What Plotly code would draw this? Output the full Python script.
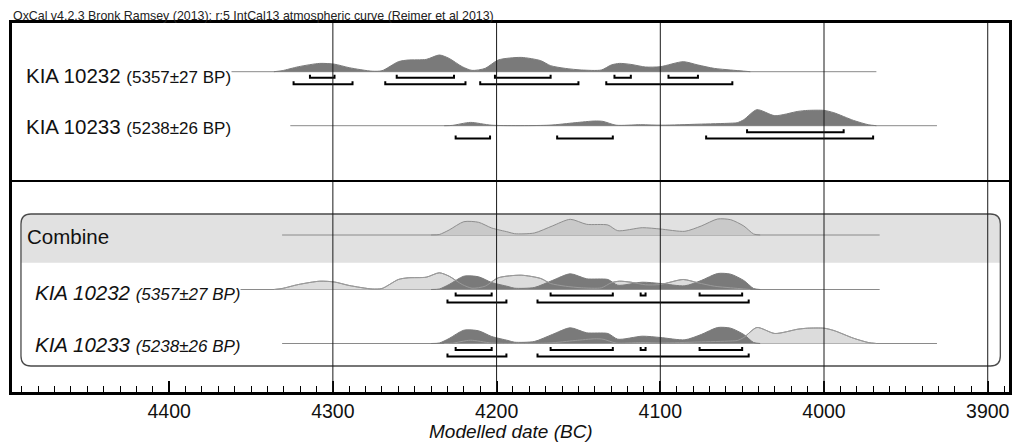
import plotly.graph_objects as go

# ---------------- data (years BC, relative probability) ----------------
yr_10232 = [4336, 4331, 4321, 4308, 4299, 4290, 4276, 4270, 4260, 4254, 4243, 4235, 4229, 4221, 4215,
            4207, 4199, 4185, 4173, 4167, 4158, 4148, 4136, 4130, 4125, 4118, 4109, 4100, 4086, 4077,
            4067, 4057, 4045]
p_10232 = [0, 1, 5, 8.3, 7.5, 4, 0.5, 1, 10, 11.7, 12.3, 16.7, 13.3, 5, 1.3,
           3.3, 11.7, 14.3, 11, 6, 3.3, 1.7, 1.7, 6.7, 8.3, 7.3, 4.7, 5, 10, 6.7,
           3.3, 1.7, 0]

yr_10233 = [4232, 4227, 4216, 4203, 4168, 4152, 4140, 4135, 4127, 4112, 4099, 4077, 4057, 4053,
            4049, 4041, 4030, 4016, 4010, 4000, 3994, 3982, 3973, 3968]
p_10233 = [0, 0.3, 3.3, 0.5, 0.5, 3, 4.7, 4.3, 0.5, 1, 0.5, 1.5, 2.5, 3,
           6, 16, 10, 14.3, 15.3, 15.3, 13, 5.3, 1, 0]

yr_comb = [4240, 4235, 4229, 4220, 4211, 4203, 4193, 4189, 4177, 4166, 4155, 4145, 4132, 4126,
           4111, 4100, 4085, 4075, 4065, 4057, 4049, 4043, 4039]
p_comb = [0, 0.5, 5, 13.3, 12.7, 7, 3, 1.3, 2, 9, 15.7, 10.7, 10, 4.3,
          7.3, 6, 3.7, 9, 16, 15.3, 9, 1, 0]

# highest posterior density ranges (from, to) in years BC
r68_10232 = [(4314, 4299), (4261, 4226), (4201, 4167), (4128, 4118), (4095, 4077)]
r95_10232 = [(4324, 4288), (4268, 4219), (4210, 4150), (4133, 4056)]
r68_10233 = [(4047, 3988)]
r95_10233 = [(4225, 4204), (4163, 4129), (4072, 3970)]
r68_comb = [(4225, 4203), (4167, 4129), (4112, 4109), (4076, 4050)]
r95_comb = [(4230, 4194), (4175, 4046)]

# extents of the plotted baseline of each distribution
span_10232 = (4375, 3968)
span_10233 = (4326, 3931)
span_comb = (4331, 3966)

tick_years = [4400, 4300, 4200, 4100, 4000, 3900]
grid_years = [4300, 4200, 4100, 4000, 3900]

title_txt = "OxCal v4.2.3 Bronk Ramsey (2013); r:5 IntCal13 atmospheric curve (Reimer et al 2013)"
axis_title = "Modelled date (BC)"

# ---------------- layout constants ----------------
W, H = 1024, 448
L, R, T, B = 12, 12, 23, 56
X_RANGE = [4496, 3887]
Y_TOP, Y_BOT = T, H - B          # y axis in pixel units (reversed)
FONT = "Liberation Sans, Arial, sans-serif"

DARK = "#7a7a7a"
LIGHT = "#dcdcdc"
LIGHT_EDGE = "#8e8e8e"
COMB_FILL = "#c9c9c9"
BASE_LINE = "#8a8a8a"
SM = 0.7


def px(xpix):
    return (xpix - L) / (W - L - R)


fig = go.Figure()


def baseline(span, y):
    fig.add_trace(go.Scatter(x=list(span), y=[y, y], mode="lines",
                             line=dict(color=BASE_LINE, width=1), hoverinfo="skip"))


def dist(yrs, ps, y, fill, edge, width=1.0):
    ys = [y - p for p in ps]
    fig.add_trace(go.Scatter(x=yrs, y=ys, mode="lines", fill="toself", fillcolor=fill,
                             line=dict(color=edge, width=width, shape="spline", smoothing=SM),
                             hoverinfo="skip"))


def outline(yrs, ps, y, edge):
    fig.add_trace(go.Scatter(x=yrs, y=[y - p for p in ps], mode="lines",
                             line=dict(color=edge, width=1, shape="spline", smoothing=SM),
                             hoverinfo="skip"))


def brackets(ranges, y):
    xs, ys = [], []
    for a, b in ranges:
        xs += [a, a, b, b, None]
        ys += [y - 3, y, y, y - 3, None]
    fig.add_trace(go.Scatter(x=xs, y=ys, mode="lines", line=dict(color="black", width=2),
                             hoverinfo="skip"))


# top panel: unmodelled
y1, y2 = 71.7, 125.7
baseline(span_10232, y1)
dist(yr_10232, p_10232, y1, DARK, DARK)
brackets(r68_10232, y1 + 6)
brackets(r95_10232, y1 + 12.5)

baseline(span_10233, y2)
dist(yr_10233, p_10233, y2, DARK, DARK)
brackets(r68_10233, y2 + 6.5)
brackets(r95_10233, y2 + 12.7)

# lower panel: combine
yc, y3, y4 = 235, 289.5, 343.5
baseline(span_comb, yc)
dist(yr_comb, p_comb, yc, COMB_FILL, LIGHT_EDGE)

baseline((span_10232[0], span_comb[1]), y3)
dist(yr_10232, p_10232, y3, LIGHT, LIGHT_EDGE)
dist(yr_comb, p_comb, y3, DARK, DARK)
outline(yr_10232, p_10232, y3, "#9a9a9a")
brackets(r68_comb, y3 + 6)
brackets(r95_comb, y3 + 13)

baseline((span_comb[0], span_10233[1]), y4)
dist(yr_10233, p_10233, y4, LIGHT, LIGHT_EDGE)
dist(yr_comb, p_comb, y4, DARK, DARK)
outline(yr_10233, p_10233, y4, "#9a9a9a")
brackets(r68_comb, y4 + 6.5)
brackets(r95_comb, y4 + 13)

# ---------------- shapes ----------------
shapes = []
bx0, bx1, by0, by1, rad = px(21), px(1003.3), 214, 366, 10
rx = rad / (W - L - R)
band_bot = 262.7
shapes.append(dict(type="path", xref="paper", yref="y", layer="below",
                   path=(f"M {bx0},{band_bot} L {bx0},{by0+rad} Q {bx0},{by0} {bx0+rx},{by0} "
                         f"L {bx1-rx},{by0} Q {bx1},{by0} {bx1},{by0+rad} L {bx1},{band_bot} Z"),
                   fillcolor="#e1e1e1", line=dict(width=0)))
shapes.append(dict(type="path", xref="paper", yref="y", layer="below",
                   path=(f"M {bx0+rx},{by0} L {bx1-rx},{by0} Q {bx1},{by0} {bx1},{by0+rad} "
                         f"L {bx1},{by1-rad} Q {bx1},{by1} {bx1-rx},{by1} L {bx0+rx},{by1} "
                         f"Q {bx0},{by1} {bx0},{by1-rad} L {bx0},{by0+rad} Q {bx0},{by0} {bx0+rx},{by0} Z"),
                   line=dict(color="#4a4a4a", width=1.3)))
for g in grid_years:
    shapes.append(dict(type="line", xref="x", yref="paper", x0=g, x1=g, y0=0, y1=1,
                       layer="above", line=dict(color="#1a1a1a", width=1)))
shapes.append(dict(type="line", xref="paper", yref="y", x0=0, x1=1, y0=181, y1=181,
                   layer="above", line=dict(color="black", width=2.2)))

# ---------------- annotations ----------------
ann = []
small = "font-size:17px"
ann.append(dict(text=title_txt, xref="paper", yref="paper", x=px(11), y=(Y_BOT - 16.3) / (Y_BOT - Y_TOP),
                xanchor="left", yanchor="middle", showarrow=False, font=dict(size=12.4, color="#222", family=FONT)))
for txt, xp, yp, ital in [
    ("KIA 10232", 25.5, 75.5, False),
    ("KIA 10233", 25.5, 126, False),
    ("KIA 10232", 34.5, 292, True),
    ("KIA 10233", 34.5, 344, True),
]:
    sub = "(5357±27 BP)" if txt.endswith("2") else "(5238±26 BP)"
    s = f"{txt} <span style='{small}'>{sub}</span>"
    if ital:
        s = f"<i>{s}</i>"
    ann.append(dict(text=s, xref="paper", yref="y", x=px(xp), y=yp, xanchor="left", yanchor="middle",
                    showarrow=False, bgcolor="white", borderpad=0,
                    font=dict(size=20.5, color="#111", family=FONT)))
ann.append(dict(text="Combine", xref="paper", yref="y", x=px(25.5), y=236, xanchor="left", yanchor="middle",
                showarrow=False, font=dict(size=20.5, color="#111", family=FONT)))
ann.append(dict(text=f"<i>{axis_title}</i>", xref="paper", yref="paper", x=0.5,
                y=(Y_BOT - 431.5) / (Y_BOT - Y_TOP), xanchor="center", yanchor="middle", showarrow=False,
                font=dict(size=19, color="#111", family=FONT)))

fig.update_layout(
    width=W, height=H, margin=dict(l=L, r=R, t=T, b=B),
    paper_bgcolor="white", plot_bgcolor="white", showlegend=False,
    shapes=shapes, annotations=ann,
    xaxis=dict(range=X_RANGE, showgrid=False, zeroline=False, showline=True, mirror=True,
               linecolor="black", linewidth=2.5, ticks="inside", ticklen=11, tickwidth=2,
               tickcolor="black", tickvals=tick_years, ticktext=[str(t) for t in tick_years],
               tickfont=dict(size=19.5, color="#111", family=FONT),
               minor=dict(dtick=10, tick0=4000, ticks="inside", ticklen=6, tickwidth=1,
                          tickcolor="black", showgrid=False)),
    yaxis=dict(range=[Y_BOT, Y_TOP], showgrid=False, zeroline=False, showline=True, mirror=True,
               linecolor="black", linewidth=2.5, showticklabels=False, ticks=""),
)

fig.write_html("out.html")
